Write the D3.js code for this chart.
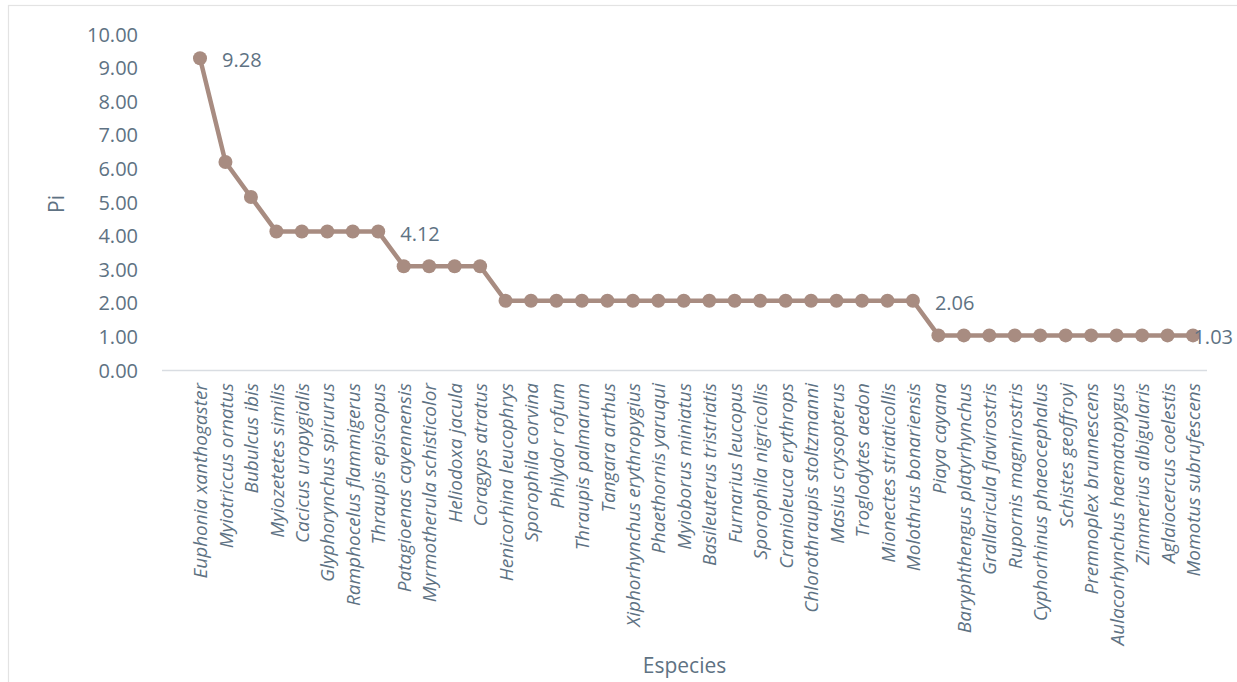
<!DOCTYPE html>
<html>
<head>
<meta charset="utf-8">
<script src="https://cdn.jsdelivr.net/npm/d3@7/dist/d3.min.js"></script>
<style>
  html, body { margin: 0; padding: 0; background: #ffffff; }
  svg { display: block; }
  text { font-family: "Open Sans", "Noto Sans", sans-serif; fill: #5e7283; }
</style>
</head>
<body>
<svg id="chart" width="1237" height="682"></svg>
<script>
// Relative abundance (Pi, %) per species, sorted in descending order
const species = [
  "Euphonia xanthogaster", "Myiotriccus ornatus", "Bubulcus ibis", "Myiozetetes similis",
  "Cacicus uropygialis", "Glyphorynchus spirurus", "Ramphocelus flammigerus", "Thraupis episcopus",
  "Patagioenas cayennensis", "Myrmotherula schisticolor", "Heliodoxa jacula", "Coragyps atratus",
  "Henicorhina leucophrys", "Sporophila corvina", "Philydor rofum", "Thraupis palmarum",
  "Tangara arthus", "Xiphorhynchus erythropygius", "Phaethornis yaruqui", "Myioborus miniatus",
  "Basileuterus tristriatis", "Furnarius leucopus", "Sporophila nigricollis", "Cranioleuca erythrops",
  "Chlorothraupis stoltzmanni", "Masius crysopterus", "Troglodytes aedon", "Mionectes striaticollis",
  "Molothrus bonariensis", "Piaya cayana", "Baryphthengus platyrhynchus", "Grallaricula flavirostris",
  "Rupornis magnirostris", "Cyphorhinus phaeocephalus", "Schistes geoffroyi", "Premnoplex brunnescens",
  "Aulacorhynchus haematopygus", "Zimmerius albigularis", "Aglaiocercus coelestis", "Momotus subrufescens"
];

const pi = [
  9.28, 6.19, 5.15, 4.12, 4.12, 4.12, 4.12, 4.12,
  3.09, 3.09, 3.09, 3.09,
  2.06, 2.06, 2.06, 2.06, 2.06, 2.06, 2.06, 2.06, 2.06, 2.06, 2.06, 2.06, 2.06, 2.06, 2.06, 2.06, 2.06,
  1.03, 1.03, 1.03, 1.03, 1.03, 1.03, 1.03, 1.03, 1.03, 1.03, 1.03
];

// Species whose value is written next to the marker
const labelled = ["Euphonia xanthogaster", "Thraupis episcopus", "Molothrus bonariensis", "Momotus subrufescens"];

const yTicks = [0, 1, 2, 3, 4, 5, 6, 7, 8, 9, 10];

const data = species.map((s, i) => ({ name: s, value: pi[i] }));

const svg = d3.select("#chart");
const W = 1237, H = 682;

// chart frame
svg.append("rect")
  .attr("x", 8.5).attr("y", 5.5)
  .attr("width", W + 10).attr("height", H + 10)
  .attr("fill", "#ffffff")
  .attr("stroke", "#e3e3e3").attr("stroke-width", 1.2);

const plot = { left: 162, right: 1207, top: 34, bottom: 370 };

const x = d3.scalePoint()
  .domain(species)
  .range([200, 1193]);

const y = d3.scaleLinear()
  .domain([0, 10])
  .range([plot.bottom, plot.top]);

// y axis (labels only)
const yAxis = d3.axisLeft(y)
  .tickValues(yTicks)
  .tickFormat(d3.format(".2f"))
  .tickSize(0)
  .tickPadding(0);

const gy = svg.append("g")
  .attr("transform", "translate(138,0)")
  .call(yAxis);
gy.select(".domain").remove();
gy.selectAll("text")
  .style("font-size", "20px")
  .attr("fill", "#5e7283")
  .attr("dy", "0.35em");

// category axis baseline
svg.append("line")
  .attr("x1", plot.left).attr("x2", plot.right)
  .attr("y1", plot.bottom + 0.5).attr("y2", plot.bottom + 0.5)
  .attr("stroke", "#d9dde2").attr("stroke-width", 1.5);

// x axis labels, rotated
const xAxis = d3.axisBottom(x).tickSize(0).tickPadding(0);
const gx = svg.append("g")
  .attr("transform", `translate(0,${plot.bottom})`)
  .call(xAxis);
gx.select(".domain").remove();
gx.selectAll("text")
  .style("font-size", "19px")
  .style("font-style", "italic")
  .attr("fill", "#5e7283")
  .attr("text-anchor", "end")
  .attr("transform", "rotate(-90)")
  .attr("x", -13)
  .attr("y", 0)
  .attr("dy", "0.35em");

// axis titles
svg.append("text")
  .attr("transform", `translate(57,${(plot.top + plot.bottom) / 2 + 2}) rotate(-90)`)
  .attr("text-anchor", "middle")
  .attr("dy", "0.35em")
  .style("font-size", "21px")
  .text("Pi");

svg.append("text")
  .attr("x", (plot.left + plot.right) / 2)
  .attr("y", 666)
  .attr("text-anchor", "middle")
  .attr("dy", "0.35em")
  .style("font-size", "21px")
  .text("Especies");

// series line and markers
const color = "#a88c81";
const line = d3.line()
  .x(d => x(d.name))
  .y(d => y(d.value));

svg.append("path")
  .datum(data)
  .attr("d", line)
  .attr("fill", "none")
  .attr("stroke", color)
  .attr("stroke-width", 4.5)
  .attr("stroke-linejoin", "round");

svg.append("g")
  .selectAll("circle")
  .data(data)
  .join("circle")
  .attr("cx", d => x(d.name))
  .attr("cy", d => y(d.value))
  .attr("r", 7)
  .attr("fill", color);

// value labels, kept inside the chart frame
const fmt = d3.format(".2f");
svg.append("g")
  .selectAll("text")
  .data(data.filter(d => labelled.includes(d.name)))
  .join("text")
  .style("font-size", "20px")
  .attr("dy", "0.35em")
  .attr("y", d => y(d.value) + 2)
  .text(d => fmt(d.value))
  .each(function (d) {
    const w = this.getComputedTextLength();
    const px = x(d.name) + 22;
    d3.select(this).attr("x", Math.min(px, 1233 - w));
  });
</script>
</body>
</html>
